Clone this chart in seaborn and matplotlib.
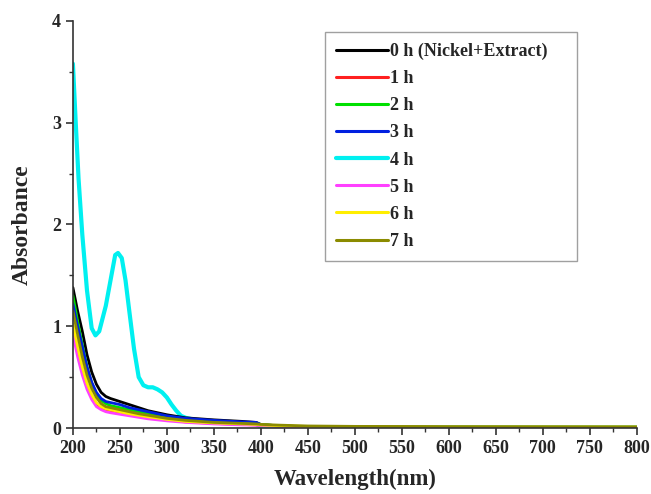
import numpy as np
import pandas as pd
import matplotlib
matplotlib.use("Agg")
import matplotlib.pyplot as plt
import seaborn as sns

# ---- data ----
series_names = ["0 h (Nickel+Extract)", "1 h", "2 h", "3 h", "4 h", "5 h", "6 h", "7 h"]
series_colors = ["#000000", "#ff2020", "#00e000", "#0020e0", "#00f0f0", "#ff40ff", "#ffee00", "#8b8b00"]

wl_common = [200, 205, 210, 215, 220, 225, 230, 235, 240, 250, 260, 270, 280, 300, 320, 350, 380, 395, 400, 420, 450, 500, 600, 700, 800]
abs_0h = [1.38, 1.15, 0.95, 0.72, 0.55, 0.43, 0.35, 0.31, 0.29, 0.26, 0.23, 0.20, 0.17, 0.13, 0.10, 0.08, 0.065, 0.055, 0.035, 0.02, 0.012, 0.008, 0.006, 0.005, 0.004]
abs_1h = [1.00, 0.78, 0.58, 0.42, 0.31, 0.24, 0.20, 0.18, 0.17, 0.15, 0.13, 0.115, 0.10, 0.08, 0.06, 0.045, 0.035, 0.03, 0.025, 0.02, 0.012, 0.008, 0.006, 0.005, 0.004]
abs_2h = [1.30, 1.05, 0.82, 0.60, 0.44, 0.33, 0.27, 0.24, 0.22, 0.20, 0.18, 0.16, 0.14, 0.11, 0.085, 0.065, 0.05, 0.045, 0.035, 0.02, 0.012, 0.008, 0.006, 0.005, 0.004]
abs_3h = [1.22, 1.00, 0.80, 0.60, 0.45, 0.35, 0.29, 0.26, 0.25, 0.23, 0.20, 0.18, 0.16, 0.12, 0.095, 0.075, 0.06, 0.055, 0.03, 0.02, 0.012, 0.008, 0.006, 0.005, 0.004]
abs_5h = [0.92, 0.70, 0.52, 0.38, 0.28, 0.21, 0.18, 0.16, 0.15, 0.135, 0.12, 0.105, 0.09, 0.07, 0.055, 0.04, 0.03, 0.028, 0.022, 0.018, 0.012, 0.008, 0.006, 0.005, 0.004]
abs_6h = [1.02, 0.80, 0.60, 0.44, 0.33, 0.25, 0.21, 0.19, 0.18, 0.16, 0.14, 0.125, 0.11, 0.085, 0.065, 0.05, 0.04, 0.035, 0.03, 0.022, 0.015, 0.012, 0.01, 0.01, 0.01]
abs_7h = [1.15, 0.92, 0.70, 0.52, 0.39, 0.30, 0.24, 0.21, 0.20, 0.18, 0.16, 0.14, 0.125, 0.095, 0.075, 0.055, 0.045, 0.04, 0.035, 0.028, 0.02, 0.016, 0.014, 0.013, 0.012]

wl_4h = [200, 203, 206, 210, 215, 220, 224, 228, 235, 240, 245, 248, 252, 256, 260, 265, 270, 275, 280, 285, 290, 295, 300, 305, 310, 315, 320, 330, 350, 380, 395, 402, 420, 450, 500, 600, 700, 800]
abs_4h = [3.58, 3.00, 2.45, 1.90, 1.35, 0.98, 0.91, 0.95, 1.20, 1.45, 1.70, 1.72, 1.67, 1.45, 1.15, 0.78, 0.50, 0.42, 0.40, 0.40, 0.38, 0.35, 0.30, 0.23, 0.17, 0.12, 0.10, 0.08, 0.06, 0.05, 0.04, 0.005, 0.008, 0.008, 0.006, 0.005, 0.004, 0.004]

x_ticks = [200, 250, 300, 350, 400, 450, 500, 550, 600, 650, 700, 750, 800]
y_ticks = [0, 1, 2, 3, 4]

# ---- build long table ----
frames = []
common_series = {"0 h (Nickel+Extract)": abs_0h, "1 h": abs_1h, "2 h": abs_2h, "3 h": abs_3h,
                 "5 h": abs_5h, "6 h": abs_6h, "7 h": abs_7h}
for name in series_names:
    if name == "4 h":
        frames.append(pd.DataFrame({"Wavelength": wl_4h, "Absorbance": abs_4h, "Time": name}))
    else:
        frames.append(pd.DataFrame({"Wavelength": wl_common, "Absorbance": common_series[name], "Time": name}))
df = pd.concat(frames, ignore_index=True)

sns.set_style("ticks")
plt.rcParams["font.family"] = ["Liberation Serif", "DejaVu Serif"]
plt.rcParams["font.weight"] = "bold"

fig = plt.figure(figsize=(6.51, 4.94), dpi=100)
ax = fig.add_axes([0.112, 0.1336, 0.866, 0.824])

palette = dict(zip(series_names, series_colors))
sns.lineplot(data=df, x="Wavelength", y="Absorbance", hue="Time", hue_order=series_names,
             palette=palette, sort=False, estimator=None, linewidth=2.0, ax=ax)
for line, name in zip(ax.get_lines(), series_names):
    if name == "4 h":
        line.set_linewidth(3.0)
        line.set_zorder(1.5)

ax.set_xlim(200, 800)
ax.set_ylim(0, 4)
ax.set_xticks(x_ticks)
ax.set_yticks(y_ticks)
ax.set_xticks(np.arange(225, 800, 50), minor=True)
ax.set_yticks(np.arange(0.5, 4, 1.0), minor=True)
ax.tick_params(axis="both", which="major", direction="out", length=5, width=1.2, labelsize=13, color="#333333")
ax.tick_params(axis="both", which="minor", direction="out", length=3, width=1.0, color="#333333")
for lbl in ax.get_xticklabels() + ax.get_yticklabels():
    lbl.set_fontweight("bold")
for s in ["top", "right"]:
    ax.spines[s].set_visible(False)
for s in ["left", "bottom"]:
    ax.spines[s].set_linewidth(1.2)
    ax.spines[s].set_color("#333333")

ax.set_xlabel("Wavelength(nm)", fontsize=16.5, fontweight="bold", labelpad=9)
ax.set_ylabel("Absorbance", fontsize=17, fontweight="bold", labelpad=14)

handles, labels = ax.get_legend_handles_labels()
for h, lab in zip(handles, labels):
    h.set_linewidth(3.0 if lab == "4 h" else 2.2)
leg = ax.legend(handles, labels, loc="upper left", bbox_to_anchor=(0.4468, 0.0, 0.4468, 0.973),
                mode="expand", borderaxespad=0.0,
                frameon=True, fancybox=False, edgecolor="#888888", handlelength=2.9,
                handletextpad=0.1, borderpad=0.6, labelspacing=0.56,
                prop={"family": "Liberation Serif", "weight": "bold", "size": 13})
leg.get_frame().set_linewidth(1.0)

fig.savefig("out.png", dpi=100)
